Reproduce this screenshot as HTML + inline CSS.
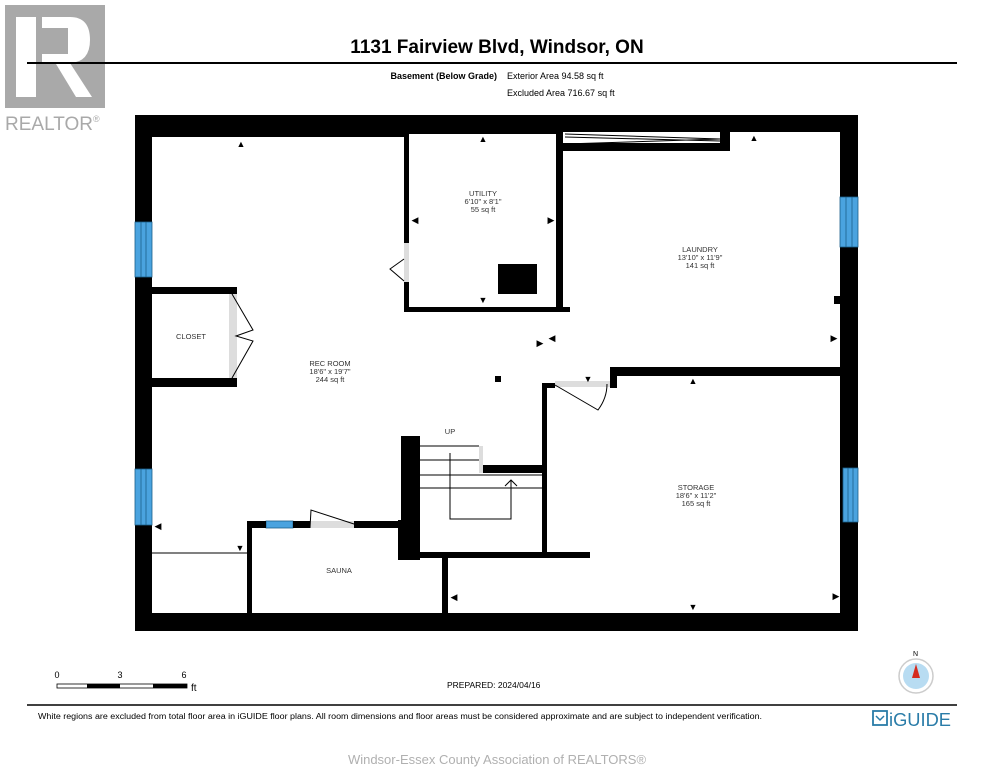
<!DOCTYPE html>
<html><head><meta charset="utf-8"><style>
body{margin:0;background:#fff;width:993px;height:767px;overflow:hidden;font-family:"Liberation Sans",sans-serif}
</style></head><body>
<svg width="993" height="767" viewBox="0 0 993 767" xmlns="http://www.w3.org/2000/svg" font-family="Liberation Sans, sans-serif">
<!-- realtor logo -->
<rect x="5" y="5" width="100" height="103" fill="#a9a9a9"/>
<rect x="16" y="17" width="20" height="80" fill="#fff"/>
<path d="M42 17 H70 Q90 17 90 40 Q90 62 70 63 L92 97 H76 L56 64 H42 Z" fill="#fff"/>
<rect x="42" y="28" width="26" height="26" fill="#a9a9a9"/>
<text x="5" y="130" font-size="19" fill="#a9a9a9">REALTOR<tspan font-size="9" dy="-8">®</tspan></text>
<!-- header -->
<text x="497" y="53" font-size="19" font-weight="bold" text-anchor="middle">1131 Fairview Blvd, Windsor, ON</text>
<line x1="27" y1="63" x2="957" y2="63" stroke="#000" stroke-width="2"/>
<text x="497" y="79" font-size="9" font-weight="bold" text-anchor="end">Basement (Below Grade)</text>
<text x="507" y="79" font-size="9">Exterior Area 94.58 sq ft</text>
<text x="507" y="96" font-size="9">Excluded Area 716.67 sq ft</text>
<!-- outer walls -->
<path d="M135 115 H858 V631 H135 Z M152 137 V613 H840 V132 H556 V134 H409 V137 Z" fill="#000" fill-rule="evenodd"/>
<!-- windows -->
<g fill="#4aa3df" stroke="#1b5f8a" stroke-width="0.8">
<rect x="135" y="222" width="17" height="55"/><rect x="135" y="469" width="17" height="56"/>
<rect x="840" y="197" width="18" height="50"/><rect x="843" y="468" width="15" height="54"/>
<rect x="266" y="521" width="27" height="7"/>
</g>
<g stroke="#1b5f8a" stroke-width="0.8"><line x1="141" y1="222" x2="141" y2="277"/><line x1="146" y1="222" x2="146" y2="277"/><line x1="141" y1="469" x2="141" y2="525"/><line x1="146" y1="469" x2="146" y2="525"/><line x1="846" y1="197" x2="846" y2="247"/><line x1="852" y1="197" x2="852" y2="247"/><line x1="848" y1="468" x2="848" y2="522"/><line x1="853" y1="468" x2="853" y2="522"/></g>
<!-- interior walls -->
<g fill="#000">
<rect x="404" y="134" width="5" height="109"/><rect x="404" y="282" width="5" height="30"/>
<rect x="404" y="307" width="166" height="5"/><rect x="556" y="132" width="7" height="178"/>
<rect x="563" y="143" width="167" height="8"/><rect x="720" y="132" width="10" height="19"/>
<rect x="498" y="264" width="39" height="30"/>
<rect x="152" y="287" width="85" height="7"/><rect x="152" y="378" width="85" height="9"/>
<rect x="610" y="367" width="230" height="9"/><rect x="610" y="367" width="7" height="21"/>
<rect x="542" y="383" width="13" height="5"/>
<rect x="542" y="383" width="5" height="175"/><rect x="398" y="552" width="192" height="6"/>
<rect x="401" y="436" width="19" height="124"/><rect x="398" y="520" width="22" height="40"/>
<rect x="479" y="465" width="63" height="8"/>
<rect x="247" y="521" width="19" height="7"/><rect x="293" y="521" width="17" height="7"/><rect x="354" y="521" width="47" height="7"/>
<rect x="247" y="521" width="5" height="92"/><rect x="442" y="558" width="6" height="55"/>
<rect x="834" y="296" width="6" height="8"/>
<rect x="495" y="376" width="6" height="6"/>
</g>
<!-- doors -->
<g fill="#ddd"><rect x="404" y="243" width="5" height="39"/><rect x="229" y="294" width="8" height="84"/><rect x="555" y="381" width="55" height="6"/><rect x="310" y="521" width="44" height="7"/><rect x="479" y="446" width="4" height="27"/></g>
<g fill="none" stroke="#000" stroke-width="1">
<path d="M404 259 L390 269 L404 281"/>
<path d="M232 294 L253 330 L236 336 L253 341 L232 378"/>
<path d="M555 385 L598 410 Q607 398 607 384"/>
<path d="M310 528 L311 510 L354 524"/>
<path d="M565 134 L720 139 L565 144 M565 137 L720 141"/>
<line x1="152" y1="553" x2="247" y2="553"/>
<path d="M420 446 H479 M420 460 H479 M420 475 H542 M420 488 H542"/>
<path d="M450 453 V519 H511 V480 M505 486 L511 480 L517 486"/>
</g>
<!-- markers -->
<g font-size="9" text-anchor="middle">
<text x="241" y="147">▲</text><text x="483" y="142">▲</text><text x="754" y="141">▲</text>
<text x="483" y="303">▼</text><text x="240" y="551">▼</text><text x="693" y="610">▼</text><text x="588" y="382">▼</text>
<text x="693" y="384">▲</text>
<text x="415" y="223">◀</text><text x="551" y="223">▶</text><text x="158" y="529">◀</text><text x="454" y="600">◀</text>
<text x="834" y="341">▶</text><text x="836" y="599">▶</text><text x="540" y="346">▶</text><text x="552" y="341">◀</text>
</g>
<!-- labels -->
<g font-size="7.5" fill="#333" text-anchor="middle">
<text x="483" y="196">UTILITY</text><text x="483" y="204">6'10" x 8'1"</text><text x="483" y="212">55 sq ft</text>
<text x="700" y="252">LAUNDRY</text><text x="700" y="260">13'10" x 11'9"</text><text x="700" y="268">141 sq ft</text>
<text x="330" y="366">REC ROOM</text><text x="330" y="374">18'6" x 19'7"</text><text x="330" y="382">244 sq ft</text>
<text x="696" y="490">STORAGE</text><text x="696" y="498">18'6" x 11'2"</text><text x="696" y="506">165 sq ft</text>
<text x="191" y="339">CLOSET</text><text x="339" y="573">SAUNA</text><text x="450" y="434">UP</text>
</g>
<!-- footer -->
<g font-size="9"><text x="57" y="678" text-anchor="middle">0</text><text x="120" y="678" text-anchor="middle">3</text><text x="184" y="678" text-anchor="middle">6</text></g>
<rect x="57" y="684" width="130" height="4" fill="#fff" stroke="#000" stroke-width="0.8"/>
<rect x="87" y="684" width="33" height="4"/><rect x="153" y="684" width="34" height="4"/>
<text x="191" y="691" font-size="10">ft</text>
<text x="447" y="688" font-size="8.5">PREPARED: 2024/04/16</text>
<text x="913" y="656" font-size="7">N</text>
<circle cx="916" cy="676" r="17" fill="#fff" stroke="#ccc" stroke-width="1.5"/>
<circle cx="916" cy="676" r="13" fill="#b8dcf2"/>
<path d="M916 664 L920 678 H912 Z" fill="#d52b1e"/>
<line x1="27" y1="705" x2="957" y2="705" stroke="#000" stroke-width="1.5"/>
<text x="38" y="719" font-size="8" textLength="724" lengthAdjust="spacingAndGlyphs">White regions are excluded from total floor area in iGUIDE floor plans. All room dimensions and floor areas must be considered approximate and are subject to independent verification.</text>
<rect x="873" y="711" width="14" height="14" fill="none" stroke="#2a7ca8" stroke-width="1.8"/>
<path d="M876 716 L880 720 L884 716" fill="none" stroke="#2a7ca8" stroke-width="1.5"/>
<text x="889" y="726" font-size="18" fill="#2a7ca8" textLength="62" lengthAdjust="spacingAndGlyphs">iGUIDE</text>
<text x="497" y="764" font-size="13" fill="#b0b0b0" text-anchor="middle">Windsor-Essex County Association of REALTORS®</text>
</svg>
</body></html>
